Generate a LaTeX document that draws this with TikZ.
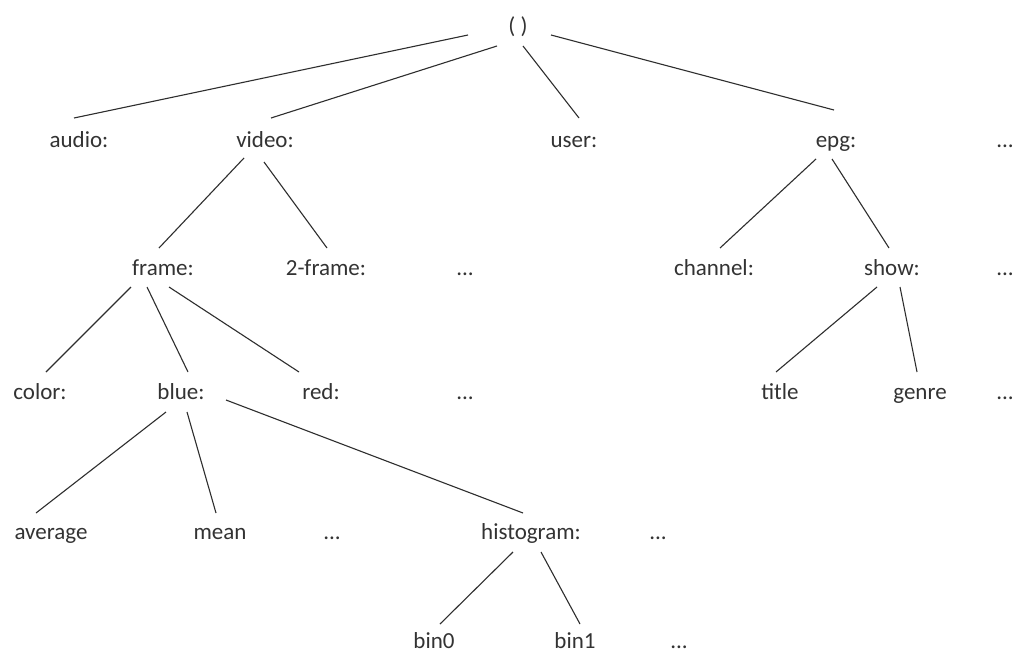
\documentclass[tikz,border=0pt]{standalone}
\usepackage{fontspec}
\setmainfont{Carlito}
\usetikzlibrary{calc}
\begin{document}
\begin{tikzpicture}[x={(1pt,0)},y={(0,-1pt)},
  lbl/.style={anchor=base,inner sep=0pt,outer sep=0pt,text=black!80,font=\fontsize{23}{27}\selectfont},
  edge/.style={draw=black!82,line width=1.1pt}]
\useasboundingbox[fill=white] (0,0) rectangle (1014,653);
% row 1
\node[lbl] (root) at (518,33) {( )};
% row 2
\node[lbl] (audio) at (79,147) {audio:};
\node[lbl] (video) at (265,147) {video:};
\node[lbl] (user) at (574,147) {user:};
\node[lbl] (epg) at (836,147) {epg:};
\node[lbl] (d1) at (1005,147) {...};
% row 3
\node[lbl] (frame) at (163,275) {frame:};
\node[lbl] (twoframe) at (326,275) {2-frame:};
\node[lbl] (d2) at (465,275) {...};
\node[lbl] (channel) at (714,275) {channel:};
\node[lbl] (show) at (892,275) {show:};
\node[lbl] (d3) at (1005,275) {...};
% row 4
\node[lbl] (color) at (40,399) {color:};
\node[lbl] (blue) at (181,399) {blue:};
\node[lbl] (red) at (321,399) {red:};
\node[lbl] (d4) at (465,399) {...};
\node[lbl] (title) at (780,399) {title};
\node[lbl] (genre) at (920,399) {genre};
\node[lbl] (d5) at (1005,399) {...};
% row 5
\node[lbl] (average) at (51,539) {average};
\node[lbl] (mean) at (220,539) {mean};
\node[lbl] (d6) at (332,539) {...};
\node[lbl] (histogram) at (531,539) {histogram:};
\node[lbl] (d7) at (658,539) {...};
% row 6
\node[lbl] (bin0) at (434,648) {bin0};
\node[lbl] (bin1) at (575,648) {bin1};
\node[lbl] (d8) at (679,648) {...};
% connectors
\draw[edge] ($(root.base)+(-50,2)$) -- ($(audio.base)+(-5,-29)$);
\draw[edge] ($(root.base)+(-21,13)$) -- ($(video.base)+(6,-29)$);
\draw[edge] ($(root.base)+(5,13)$) -- ($(user.base)+(5,-29)$);
\draw[edge] ($(root.base)+(33,2)$) -- ($(epg.base)+(-2,-37)$);
\draw[edge] ($(video.base)+(-21,11)$) -- ($(frame.base)+(-4,-27)$);
\draw[edge] ($(video.base)+(-1,15)$) -- ($(twoframe.base)+(1,-27)$);
\draw[edge] ($(frame.base)+(-32,12)$) -- ($(color.base)+(6,-27)$);
\draw[edge] ($(frame.base)+(-16,12)$) -- ($(blue.base)+(7,-27)$);
\draw[edge] ($(frame.base)+(6,12)$) -- ($(red.base)+(-22,-27)$);
\draw[edge] ($(blue.base)+(-15,13)$) -- ($(average.base)+(-15,-26)$);
\draw[edge] ($(blue.base)+(6,13)$) -- ($(mean.base)+(-4,-26)$);
\draw[edge] ($(blue.base)+(45,1)$) -- ($(histogram.base)+(-8,-26)$);
\draw[edge] ($(histogram.base)+(-18,13)$) -- ($(bin0.base)+(6,-24)$);
\draw[edge] ($(histogram.base)+(10,13)$) -- ($(bin1.base)+(5,-24)$);
\draw[edge] ($(epg.base)+(-20,12)$) -- ($(channel.base)+(6,-27)$);
\draw[edge] ($(epg.base)+(-4,12)$) -- ($(show.base)+(-3,-27)$);
\draw[edge] ($(show.base)+(-15,12)$) -- ($(title.base)+(-4,-27)$);
\draw[edge] ($(show.base)+(8,12)$) -- ($(genre.base)+(-3,-27)$);
\end{tikzpicture}
\end{document}
